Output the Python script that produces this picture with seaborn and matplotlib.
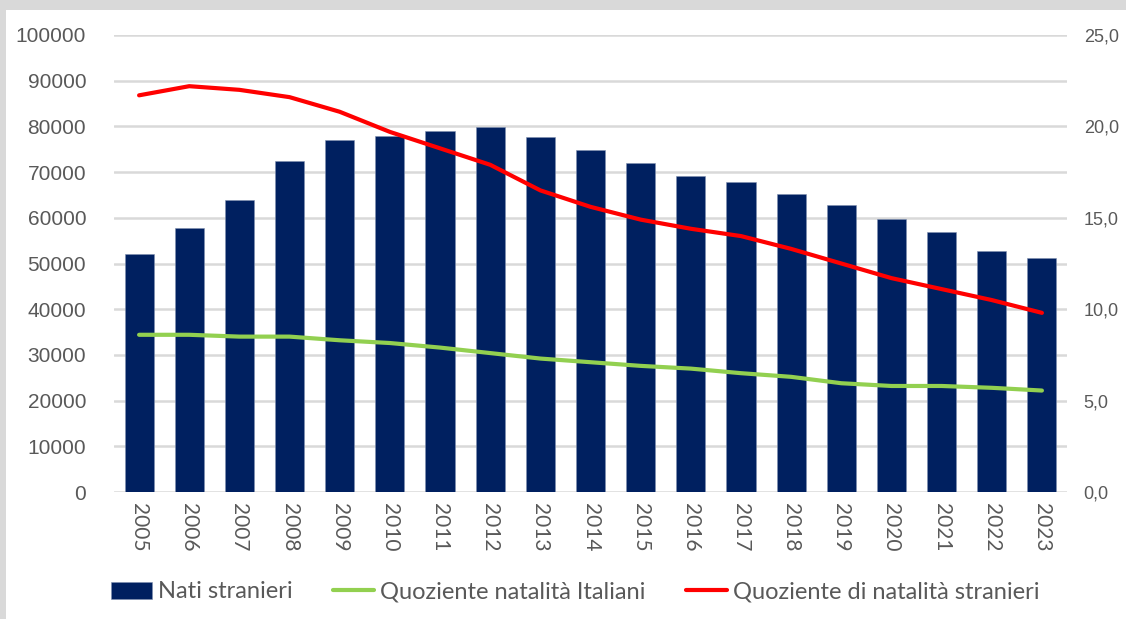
import numpy as np
import pandas as pd
import matplotlib
matplotlib.use("Agg")
import matplotlib.pyplot as plt
import seaborn as sns
from matplotlib.patches import Rectangle, Patch
from matplotlib.lines import Line2D

anni = [str(a) for a in range(2005, 2024)]
nati_stranieri = [52000, 57700, 64000, 72400, 77000, 77900, 79000, 79800, 77600, 74900,
                  71900, 69200, 67800, 65300, 62800, 59800, 56800, 52800, 51300]
quoz_italiani = [8.6, 8.6, 8.5, 8.5, 8.3, 8.15, 7.9, 7.6, 7.3, 7.1,
                 6.9, 6.75, 6.5, 6.3, 5.95, 5.8, 5.8, 5.7, 5.55]
quoz_stranieri = [21.7, 22.2, 22.0, 21.6, 20.8, 19.7, 18.8, 17.9, 16.5, 15.6,
                  14.9, 14.4, 14.0, 13.3, 12.5, 11.7, 11.1, 10.5, 9.8]

navy = "#002060"
green = "#92D050"
red = "#FF0000"
grey_txt = "#595959"
grid_col = "#D9D9D9"

df = pd.DataFrame({"anno": anni, "nati": nati_stranieri,
                   "ita": quoz_italiani, "str": quoz_stranieri, "pos": np.arange(len(anni))})

sns.set_theme(style="white")
plt.rcParams["font.family"] = ["Liberation Sans", "DejaVu Sans"]

fig = plt.figure(figsize=(11.26, 6.19), dpi=100)
fig.patch.set_facecolor("#D9D9D9")
fig.add_artist(Rectangle((6 / 1126, 0), 1, 1 - 10 / 619, transform=fig.transFigure,
                         facecolor="white", edgecolor="none", zorder=0))

ax = fig.add_axes([114 / 1126, 1 - 492 / 619, (1067 - 114) / 1126, (492 - 35) / 619])
ax.set_facecolor("none")

sns.barplot(data=df, x="anno", y="nati", color=navy, saturation=1, width=0.58,
            edgecolor="#8090b0", linewidth=0.4, ax=ax, zorder=3)
ax.set_ylim(0, 100000)
ax.set_yticks(range(0, 100001, 10000))
ax.yaxis.grid(True, color=grid_col, linewidth=1.8, zorder=0)
ax.set_axisbelow(True)
ax.set_xlabel("")
ax.set_ylabel("")
for s in ax.spines.values():
    s.set_visible(False)
ax.tick_params(axis="y", length=0, labelsize=15, labelcolor=grey_txt, pad=20)
ax.tick_params(axis="x", length=0, labelsize=15, labelcolor=grey_txt, pad=8)
for lab in ax.get_xticklabels():
    lab.set_rotation(-90)
    lab.set_fontfamily("Lato")
ax.set_xlim(-0.5, len(anni) - 0.5)

ax2 = ax.twinx()
sns.lineplot(data=df, x="pos", y="ita", color=green, linewidth=3, ax=ax2, zorder=4)
sns.lineplot(data=df, x="pos", y="str", color=red, linewidth=3, ax=ax2, zorder=4)
ax2.set_ylim(0, 25)
ax2.set_yticks(np.arange(0, 25.1, 5))
ax2.set_yticklabels([f"{v:.1f}".replace(".", ",") for v in np.arange(0, 25.1, 5)])
ax2.set_xlim(-0.5, len(anni) - 0.5)
ax2.set_xlabel("")
ax2.set_ylabel("")
for s in ax2.spines.values():
    s.set_visible(False)
ax2.tick_params(axis="y", length=0, labelsize=13, labelcolor=grey_txt, pad=12)

handles = [Patch(facecolor=navy, edgecolor="#8090b0", linewidth=0.4),
           Line2D([], [], color=green, linewidth=3),
           Line2D([], [], color=red, linewidth=3)]
labels = ["Nati stranieri", "Quoziente natalità Italiani", "Quoziente di natalità stranieri"]
fig.legend(handles, labels, loc="center", bbox_to_anchor=(0.511, 1 - 592 / 619), ncol=3,
           frameon=False, prop={"family": "Lato", "size": 17}, labelcolor=grey_txt,
           handlelength=1.75, handletextpad=0.25, columnspacing=1.7)

fig.savefig("out.png", dpi=100, facecolor=fig.get_facecolor())
